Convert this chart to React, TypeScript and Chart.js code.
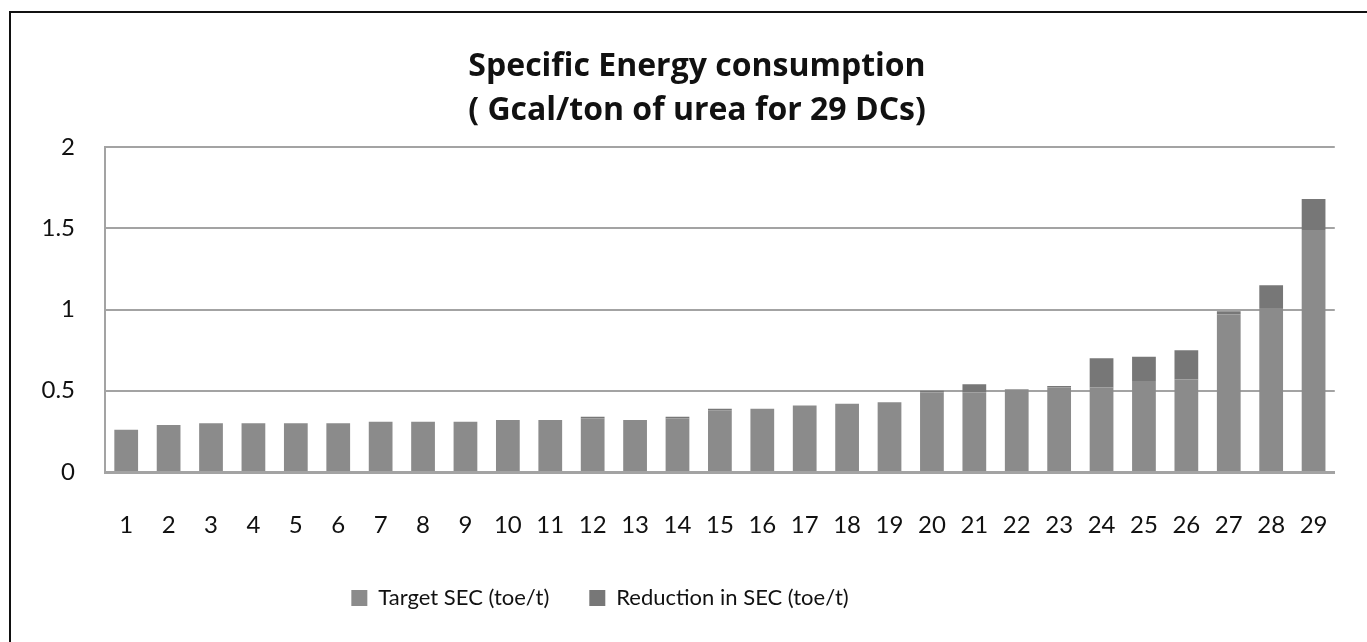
import React, { useEffect, useRef } from "react";
import { Chart, registerables } from "chart.js";

Chart.register(...registerables);

const categories = ["1","2","3","4","5","6","7","8","9","10","11","12","13","14","15","16","17","18","19","20","21","22","23","24","25","26","27","28","29"];
const targetSEC = [0.26,0.29,0.30,0.30,0.30,0.30,0.31,0.31,0.31,0.32,0.32,0.33,0.32,0.33,0.38,0.39,0.41,0.42,0.43,0.49,0.49,0.51,0.52,0.52,0.56,0.57,0.97,1.01,1.49];
const reductionSEC = [0,0,0,0,0,0,0,0,0,0,0,0.01,0,0.01,0.01,0,0,0,0,0.01,0.05,0,0.01,0.18,0.15,0.18,0.02,0.14,0.19];
const titleLines = ["Specific Energy consumption", "( Gcal/ton of urea for 29 DCs)"];
const seriesNames = ["Target SEC (toe/t)", "Reduction in SEC (toe/t)"];

const FONT = "Lato, 'Open Sans', sans-serif";
const TITLE_FONT = "'Open Sans', Lato, sans-serif";

// Shift title and legend centres to match the reference placement.
const blockShift = {
  id: "blockShift",
  afterLayout(chart: any) {
    if (chart.titleBlock) chart.titleBlock.left += 56;
    if (chart.legend) chart.legend.right -= 138;
  },
};

export default function App() {
  const ref = useRef<HTMLCanvasElement | null>(null);
  useEffect(() => {
    if (!ref.current) return;
    const chart = new Chart(ref.current, {
      type: "bar",
      data: {
        labels: categories,
        datasets: [
          { label: seriesNames[0], data: targetSEC, backgroundColor: "#8b8b8b", barPercentage: 0.56, categoryPercentage: 1 },
          { label: seriesNames[1], data: reductionSEC, backgroundColor: "#777777", barPercentage: 0.56, categoryPercentage: 1 },
        ],
      },
      plugins: [blockShift],
      options: {
        animation: false,
        responsive: false,
        maintainAspectRatio: false,
        layout: { padding: { left: 0, right: 29, top: 0, bottom: 23 } },
        plugins: {
          tooltip: { enabled: false },
          title: {
            display: true,
            text: titleLines,
            color: "#111",
            font: { family: TITLE_FONT, size: 32, weight: "bold", lineHeight: 1.375 },
            padding: { top: 45, bottom: 14 },
          },
          legend: {
            display: true,
            position: "bottom",
            labels: {
              color: "#111",
              font: { family: FONT, size: 22 },
              boxWidth: 16,
              boxHeight: 16,
              padding: 40,
            },
          },
        },
        scales: {
          x: {
            stacked: true,
            grid: { display: false, drawTicks: false },
            border: { display: true, color: "#a3a3a3", width: 3 },
            ticks: { color: "#111", font: { family: FONT, size: 24 }, padding: 39, maxRotation: 0, autoSkip: false },
            afterFit: (s: any) => { s.height = 75; },
          },
          y: {
            stacked: true,
            min: 0,
            max: 2,
            grid: { color: "#a3a3a3", lineWidth: 2, drawTicks: false },
            border: { display: true, color: "#a3a3a3", width: 2 },
            ticks: {
              stepSize: 0.5,
              color: "#111",
              font: { family: FONT, size: 24 },
              padding: 30,
              callback: (v: any) => String(Number(v)),
            },
            afterFit: (s: any) => { s.width = 105; },
          },
        },
      },
    });
    return () => chart.destroy();
  }, []);
  return (
    <div style={{ position: "fixed", left: 0, top: 0, width: 1367, height: 642, overflow: "hidden", background: "#fff" }}>
      <div style={{ position: "absolute", left: 9, top: 11, width: 1400, height: 700, border: "2px solid #111", boxSizing: "border-box" }} />
      <canvas ref={ref} width={1367} height={642} style={{ position: "absolute", left: 0, top: 0 }} />
    </div>
  );
}
